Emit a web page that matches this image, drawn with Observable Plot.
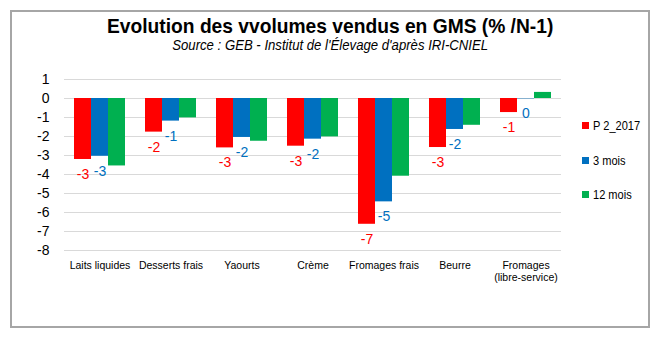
<!DOCTYPE html>
<html>
<head>
<meta charset="utf-8">
<script src="https://cdn.jsdelivr.net/npm/d3@7"></script>
<script src="https://cdn.jsdelivr.net/npm/@observablehq/plot@0.6"></script>
<style>
  html, body { margin: 0; padding: 0; background: #fff; }
  #wrap { position: relative; width: 660px; height: 339px; overflow: hidden; font-family: "Liberation Sans", Arial, sans-serif; }
  #frame { position: absolute; left: 10px; top: 10px; width: 636px; height: 314px; border: 2px solid #A6A6A6; }
  #title { position: absolute; left: 0; width: 660px; top: 14px; text-align: center; font-weight: bold; font-size: 21px; line-height: 24px; color: #000; transform: scaleX(0.915); transform-origin: 332px 0; }
  #subtitle { position: absolute; left: 0; width: 660px; top: 37px; text-align: center; font-style: italic; font-size: 14px; line-height: 17px; color: #000; transform: scaleX(0.94); transform-origin: 333px 0; }
  #chart { position: absolute; left: 0; top: 0; }
  .leg { position: absolute; left: 582px; height: 16px; line-height: 16px; font-size: 13px; color: #000; white-space: nowrap; }
  .leg .sw { position: absolute; left: 0; top: 4px; width: 7px; height: 7px; }
  .leg .lt { position: absolute; left: 11px; top: 0; transform: scaleX(0.85); transform-origin: 0 0; }
</style>
</head>
<body>
<div id="wrap">
  <div id="frame"></div>
  <div id="chart"></div>
  <div id="title">Evolution des vvolumes vendus en GMS (% /N-1)</div>
  <div id="subtitle">Source : GEB - Institut de l'Élevage d'après IRI-CNIEL</div>
  <div id="legend"></div>
</div>
<script>
const categories = ["Laits liquides", "Desserts frais", "Yaourts", "Crème", "Fromages frais", "Beurre", "Fromages\n(libre-service)"];
const seriesNames = ["P 2_2017", "3 mois", "12 mois"];
const p2_2017 = [-3.21, -1.77, -2.60, -2.51, -6.62, -2.58, -0.74];
const mois3   = [-3.04, -1.19, -2.05, -2.14, -5.44, -1.63, -0.02];
const mois12  = [-3.55, -1.02, -2.25, -2.02, -4.09, -1.41, 0.32];
const colors = ["#FF0000", "#0070C0", "#00B050"];
const yTicks = [1, 0, -1, -2, -3, -4, -5, -6, -7, -8];
const labelledSeries = ["P 2_2017", "3 mois"];

const seriesValues = [p2_2017, mois3, mois12];
const data = categories.flatMap((c, i) => seriesNames.map((s, j) => ({cat: c, series: s, value: seriesValues[j][i]})));

const chart = Plot.plot({
  width: 660,
  height: 339,
  marginLeft: 63,
  marginRight: 98,
  marginTop: 79,
  marginBottom: 89,
  style: {background: "transparent", fontFamily: "'Liberation Sans', Arial, sans-serif", overflow: "visible"},
  fx: {domain: categories, padding: 0, label: null},
  x: {domain: seriesNames, paddingInner: 0, paddingOuter: 0.51, axis: null},
  y: {domain: [-8, 1], label: null},
  color: {domain: seriesNames, range: colors},
  marks: [
    Plot.gridY({ticks: yTicks, stroke: "#D9D9D9", strokeOpacity: 1, strokeWidth: 1}),
    Plot.axisY({ticks: yTicks, tickSize: 0, tickPadding: 15, tickFormat: d => String(d), fontSize: 14, label: null, fill: "#000"}),
    Plot.axisFx({anchor: "bottom", tickSize: 0, tickPadding: 10, fontSize: 10.5, label: null, fill: "#000", lineHeight: 1.12}),
    Plot.barY(data, {fx: "cat", x: "series", y: "value", fill: "series", inset: 0}),
    Plot.text(data.filter(d => labelledSeries.includes(d.series)), {
      fx: "cat", x: "series", y: "value",
      text: d => String(Math.round(d.value)),
      fill: "series", dy: 15, fontSize: 14
    })
  ]
});
document.getElementById("chart").appendChild(chart);

const legendCenters = [125.5, 160.5, 195];
const legend = document.getElementById("legend");
seriesNames.forEach((s, i) => {
  const d = document.createElement("div");
  d.className = "leg";
  d.style.top = (legendCenters[i] - 8) + "px";
  d.innerHTML = `<span class="sw" style="background:${colors[i]}"></span><span class="lt">${s}</span>`;
  legend.appendChild(d);
});
</script>
</body>
</html>
